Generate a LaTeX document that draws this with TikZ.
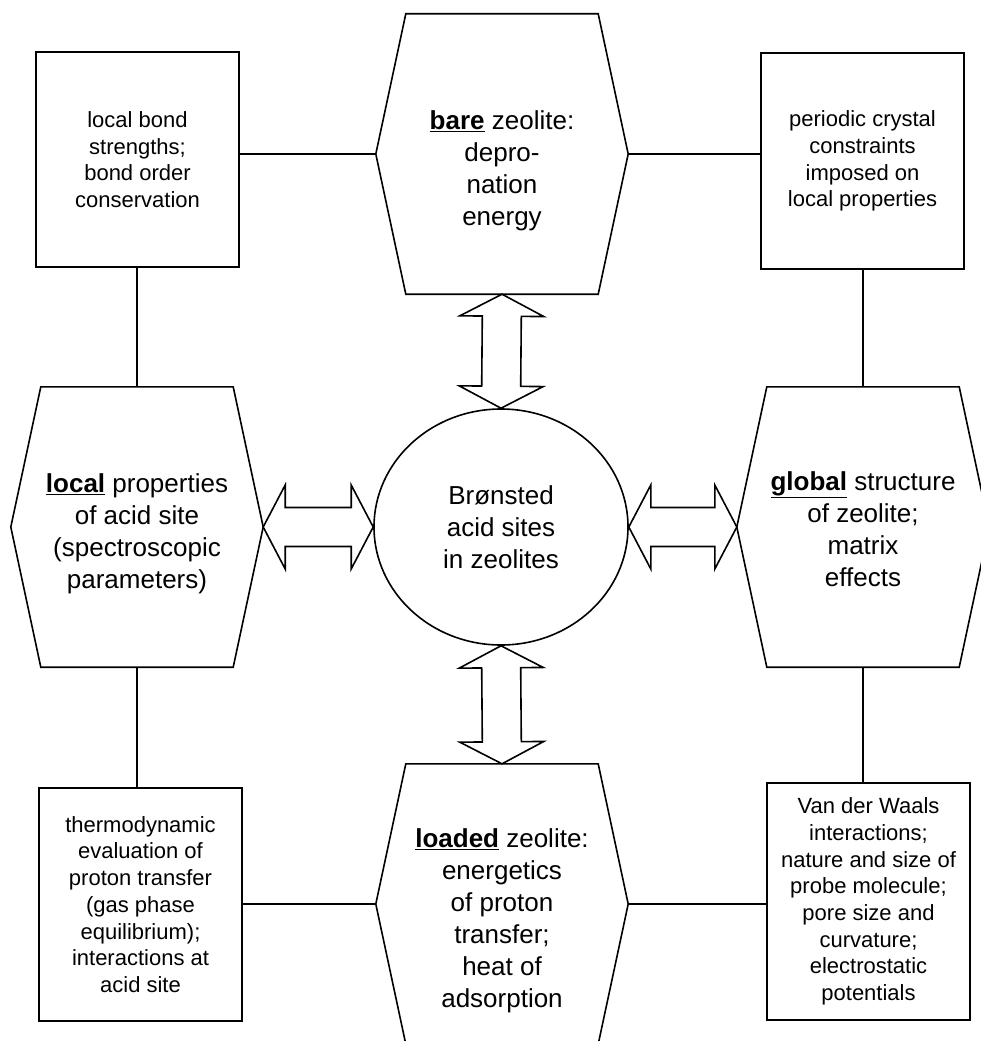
\documentclass[tikz,border=0pt]{standalone}
\usepackage{fontspec}
\setmainfont{Liberation Sans}
\usetikzlibrary{calc,shapes}

\newcommand{\fatarrow}[2]{%
  \draw[line width=1.6pt]
    ($(#1)!22pt!(#2)$) coordinate (fa1)
    ($(#2)!22pt!(#1)$) coordinate (fa2)
    (#1) -- ($(fa1)!42pt!90:(#2)$) -- ($(fa1)!19.5pt!90:(#2)$)
    -- ($(fa2)!19.5pt!-90:(#1)$) -- ($(fa2)!42pt!-90:(#1)$) -- (#2)
    -- ($(fa2)!42pt!90:(#1)$) -- ($(fa2)!19.5pt!90:(#1)$)
    -- ($(fa1)!19.5pt!-90:(#2)$) -- ($(fa1)!42pt!-90:(#2)$) -- cycle;}

\tikzset{
  box/.style={draw, line width=1.6pt, minimum width=203pt, inner sep=0pt,
    align=center, font=\fontsize{22}{26.7}\selectfont},
  hexa/.style={minimum width=252pt, minimum height=280pt, inner sep=0pt,
    align=center, font=\fontsize{26}{32}\selectfont}
}

\begin{document}
\begin{tikzpicture}[x=1pt,y=-1pt]
    \clip (0,0) rectangle (981,1041);

    \node[hexa] (bare) at (502,154) {\rule{0pt}{53pt}\underline{\textbf{bare}} zeolite:\\depro-\\nation\\energy};
    \node[hexa] (local) at (137,527) {\rule{0pt}{33pt}\underline{\textbf{local}} properties\\of acid site\\(spectroscopic\\parameters)};
    \node[hexa] (global) at (863,527) {\rule{0pt}{23pt}\underline{\textbf{global}} structure\\of zeolite;\\matrix\\effects};
    \node[hexa] (loaded) at (502,904) {\rule{0pt}{53pt}\underline{\textbf{loaded}} zeolite:\\energetics\\of proton\\transfer;\\heat of\\adsorption};
    \foreach \n in {bare,local,global,loaded}
      \draw[line width=1.6pt] ([xshift=30pt]\n.north west) -- ([xshift=-30pt]\n.north east) -- (\n.east)
        -- ([xshift=-30pt]\n.south east) -- ([xshift=30pt]\n.south west) -- (\n.west) -- cycle;

    \node[ellipse, draw, line width=1.6pt, minimum width=254pt, minimum height=236pt, inner sep=0pt,
      align=center, font=\fontsize{26}{32}\selectfont] (core) at (501,527) {Brønsted\\acid sites\\in zeolites};

    \node[box, minimum height=215pt] (bonds) at (137.5,159.5) {local bond\\strengths;\\bond order\\conservation};
    \node[box, minimum height=216pt] (crystal) at (862.5,161) {periodic crystal\\constraints\\imposed on\\local properties};
    \node[box, minimum height=233pt] (thermo) at (140.5,904.5) {thermodynamic\\evaluation of\\proton transfer\\(gas phase\\equilibrium);\\interactions at\\acid site};
    \node[box, minimum height=237pt] (vdw) at (868.5,901.5) {Van der Waals\\interactions;\\nature and size of\\probe molecule;\\pore size and\\curvature;\\electrostatic\\potentials};

    \draw[line width=1.6pt] (bare.west) -- (bare.west -| bonds.east);
    \draw[line width=1.6pt] (bare.east) -- (bare.east -| crystal.west);
    \draw[line width=1.6pt] (loaded.west) -- (loaded.west -| thermo.east);
    \draw[line width=1.6pt] (loaded.east) -- (loaded.east -| vdw.west);
    \draw[line width=1.6pt] (local.north) -- (local.north |- bonds.south);
    \draw[line width=1.6pt] (local.south) -- (local.south |- thermo.north);
    \draw[line width=1.6pt] (global.north) -- (global.north |- crystal.south);
    \draw[line width=1.6pt] (global.south) -- (global.south |- vdw.north);

    \fatarrow{bare.south}{core.north}
    \fatarrow{core.south}{loaded.north}
    \fatarrow{local.east}{core.west}
    \fatarrow{core.east}{global.west}
\end{tikzpicture}
\end{document}
